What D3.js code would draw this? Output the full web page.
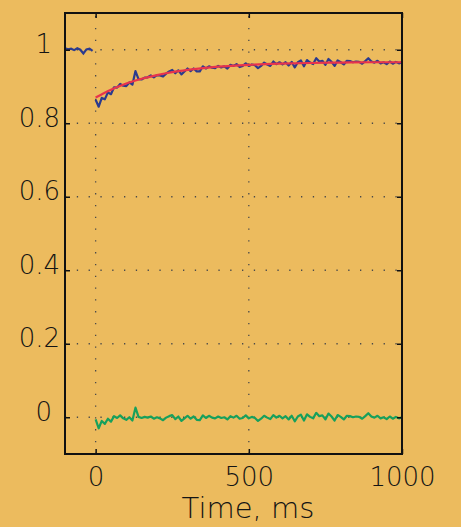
<!DOCTYPE html>
<html>
<head>
<meta charset="utf-8">
<script src="https://cdn.jsdelivr.net/npm/d3@7"></script>
<style>
  html, body { margin: 0; padding: 0; background: #ecbb5e; }
  svg { display: block; }
  text { font-family: "DejaVu Sans", sans-serif; font-weight: 200; fill: #141414; }
</style>
</head>
<body>
<div id="chart"></div>
<script>
// Pre-stimulus baseline (blue), ms
const preTime = [-100, -90, -80, -70, -60, -50, -40, -30, -20, -10];
const preValue = [1.004, 1.001, 1.003, 0.999, 1.004, 1.000, 0.990, 1.001, 1.003, 0.997];

// Post-stimulus samples, ms
const postTime = [
  0, 10, 20, 30, 40, 50, 60, 70, 80, 90,
  100, 110, 120, 130, 140, 150, 160, 170, 180, 190,
  200, 210, 220, 230, 240, 250, 260, 270, 280, 290,
  300, 310, 320, 330, 340, 350, 360, 370, 380, 390,
  400, 410, 420, 430, 440, 450, 460, 470, 480, 490,
  500, 510, 520, 530, 540, 550, 560, 570, 580, 590,
  600, 610, 620, 630, 640, 650, 660, 670, 680, 690,
  700, 710, 720, 730, 740, 750, 760, 770, 780, 790,
  800, 810, 820, 830, 840, 850, 860, 870, 880, 890,
  900, 910, 920, 930, 940, 950, 960, 970, 980, 990, 1000
];

// Measured recovery (blue)
const recovery = [
  0.864, 0.845, 0.869, 0.865, 0.884, 0.879, 0.898, 0.897, 0.907, 0.902,
  0.901, 0.911, 0.905, 0.942, 0.920, 0.919, 0.924, 0.925, 0.930, 0.925,
  0.931, 0.930, 0.927, 0.935, 0.941, 0.945, 0.936, 0.944, 0.933, 0.941,
  0.949, 0.942, 0.949, 0.941, 0.941, 0.955, 0.949, 0.955, 0.951, 0.950,
  0.956, 0.952, 0.955, 0.949, 0.959, 0.956, 0.961, 0.953, 0.956, 0.963,
  0.956, 0.960, 0.958, 0.950, 0.956, 0.965, 0.960, 0.956, 0.968, 0.961,
  0.966, 0.960, 0.966, 0.957, 0.967, 0.952, 0.966, 0.971, 0.955, 0.972,
  0.965, 0.961, 0.977, 0.968, 0.970, 0.959, 0.975, 0.967, 0.956, 0.971,
  0.966, 0.960, 0.970, 0.969, 0.966, 0.968, 0.967, 0.962, 0.969, 0.977,
  0.968, 0.965, 0.970, 0.963, 0.966, 0.961, 0.968, 0.962, 0.967, 0.963, 0.966
];

// Residuals (green)
const residual = [
  -0.006, -0.030, -0.010, -0.018, -0.004, -0.012, 0.003, -0.002, 0.005, -0.003,
  -0.007, 0.000, -0.009, 0.026, 0.001, -0.002, 0.001, -0.001, 0.002, -0.004,
  0.000, -0.003, -0.008, -0.001, 0.003, 0.006, -0.005, 0.002, -0.010, -0.003,
  0.004, -0.004, 0.002, -0.007, -0.008, 0.005, -0.002, 0.004, -0.001, -0.003,
  0.002, -0.002, 0.000, -0.006, 0.003, -0.001, 0.004, -0.004, -0.002, 0.005,
  -0.003, 0.001, -0.002, -0.010, -0.004, 0.004, -0.001, -0.005, 0.006, -0.001,
  0.004, -0.003, 0.003, -0.006, 0.004, -0.011, 0.002, 0.007, -0.009, 0.008,
  0.001, -0.003, 0.012, 0.003, 0.005, -0.006, 0.010, 0.002, -0.009, 0.006,
  0.001, -0.006, 0.004, 0.003, 0.000, 0.002, 0.001, -0.004, 0.003, 0.011,
  0.002, -0.001, 0.004, -0.003, 0.000, -0.005, 0.002, -0.004, 0.001, -0.003, 0.000
];

// Exponential fit (red)
const fitTime = [0, 25, 50, 75, 100, 150, 200, 250, 300, 400, 500, 600, 700, 800, 900, 1000];
const fitValue = [0.870, 0.881, 0.891, 0.900, 0.908, 0.921, 0.931, 0.939, 0.945, 0.954, 0.959, 0.962, 0.964, 0.965, 0.966, 0.966];

const xTicks = [0, 500, 1000];
const yTicks = [0, 0.2, 0.4, 0.6, 0.8, 1];
const xLabel = "Time, ms";

const W = 461, H = 527;
const box = { left: 65, right: 402, top: 13, bottom: 454 };

const svg = d3.select("#chart").append("svg")
  .attr("width", W)
  .attr("height", H);

const x = d3.scaleLinear().domain([-100, 1000]).range([box.left, box.right]);
const y = d3.scaleLinear().domain([-0.1, 1.1]).range([box.bottom, box.top]);

// Dotted grid
const grid = svg.append("g")
  .attr("stroke", "#4a4a4a")
  .attr("stroke-width", 1.3)
  .attr("stroke-dasharray", "1.3,10.5");

grid.selectAll(".gx")
  .data(xTicks.filter(d => d < 1000))
  .enter().append("line")
  .attr("x1", d => x(d)).attr("x2", d => x(d))
  .attr("y1", box.bottom).attr("y2", box.top);

grid.selectAll(".gy")
  .data(yTicks)
  .enter().append("line")
  .attr("x1", box.left).attr("x2", box.right)
  .attr("y1", d => y(d)).attr("y2", d => y(d));

// Traces
const line = d3.line().x(d => x(d[0])).y(d => y(d[1]));

svg.append("path")
  .datum(preTime.map((t, i) => [t, preValue[i]]))
  .attr("fill", "none").attr("stroke", "#2b3a8e").attr("stroke-width", 2.2)
  .attr("d", line);

svg.append("path")
  .datum(postTime.map((t, i) => [t, recovery[i]]))
  .attr("fill", "none").attr("stroke", "#2b3a8e").attr("stroke-width", 2.2)
  .attr("stroke-linejoin", "round")
  .attr("d", line);

svg.append("path")
  .datum(fitTime.map((t, i) => [t, fitValue[i]]))
  .attr("fill", "none").attr("stroke", "#e8334c").attr("stroke-width", 2.2)
  .attr("d", d3.line().x(d => x(d[0])).y(d => y(d[1])).curve(d3.curveMonotoneX));

svg.append("path")
  .datum(postTime.map((t, i) => [t, residual[i]]))
  .attr("fill", "none").attr("stroke", "#17a05c").attr("stroke-width", 2.2)
  .attr("stroke-linejoin", "round")
  .attr("d", line);

// Axes (ticks pointing inward, box on all sides)
function styleAxis(g) {
  g.select(".domain").remove();
  g.selectAll(".tick line").attr("stroke", "#111").attr("stroke-width", 1.5);
}

svg.append("g")
  .attr("transform", `translate(0,${box.bottom})`)
  .call(d3.axisBottom(x).tickValues(xTicks).tickSize(-5).tickPadding(14).tickFormat(d3.format("d")))
  .call(styleAxis)
  .call(g => g.selectAll("text").attr("font-size", 26).attr("dy", "0.71em"));

svg.append("g")
  .attr("transform", `translate(0,${box.top})`)
  .call(d3.axisTop(x).tickValues(xTicks).tickSize(-5).tickFormat(""))
  .call(styleAxis);

svg.append("g")
  .attr("transform", `translate(${box.left},0)`)
  .call(d3.axisLeft(y).tickValues(yTicks).tickSize(-5).tickPadding(5).tickFormat(d => d === 0 || d === 1 ? d : d3.format(".1f")(d)))
  .call(styleAxis)
  .call(g => g.selectAll("text")
    .attr("font-size", 26)
    .attr("dy", "0.12em")
    .attr("dx", d => (d === 0 || d === 1) ? -8 : 0));

svg.append("g")
  .attr("transform", `translate(${box.right},0)`)
  .call(d3.axisRight(y).tickValues(yTicks).tickSize(-5).tickFormat(""))
  .call(styleAxis);

// Frame
svg.append("rect")
  .attr("x", box.left).attr("y", box.top)
  .attr("width", box.right - box.left).attr("height", box.bottom - box.top)
  .attr("fill", "none").attr("stroke", "#111").attr("stroke-width", 2);

svg.append("text")
  .attr("x", 248).attr("y", 518)
  .attr("text-anchor", "middle")
  .attr("font-size", 29)
  .text(xLabel);
</script>
</body>
</html>
